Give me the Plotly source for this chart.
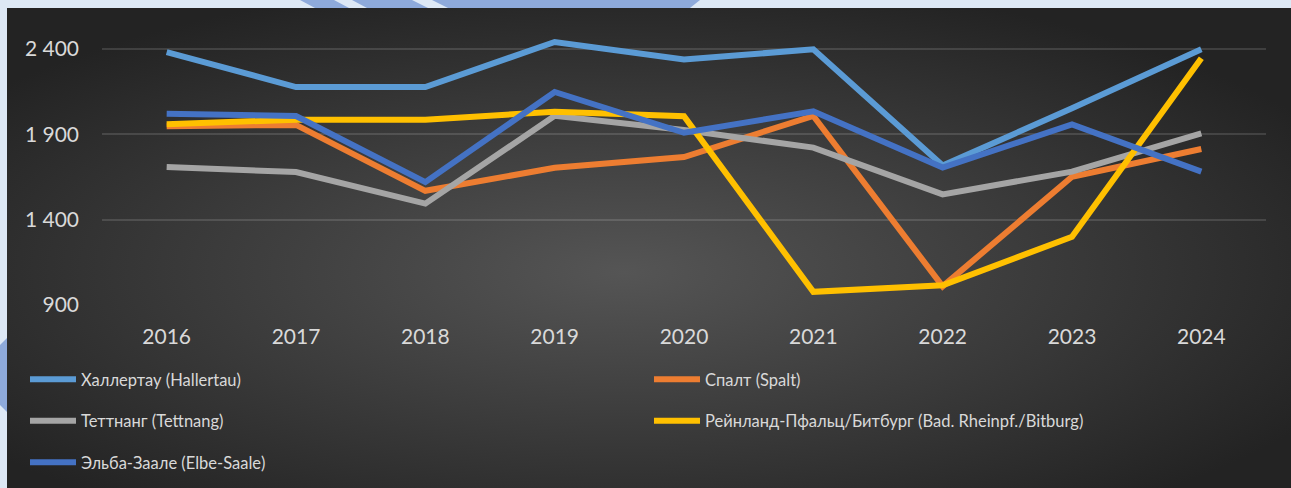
import base64
import plotly.graph_objects as go

W, H = 1291, 488

years = ["2016", "2017", "2018", "2019", "2020", "2021", "2022", "2023", "2024"]

hallertau = [2382, 2177, 2177, 2441, 2338, 2398, 1718, 2052, 2398]
spalt = [1947, 1955, 1569, 1704, 1767, 2008, 1009, 1651, 1814]
tettnang = [1708, 1679, 1494, 2008, 1925, 1822, 1548, 1681, 1906]
bitburg = [1959, 1986, 1986, 2032, 2006, 977, 1015, 1300, 2345]
elbe_saale = [2021, 2007, 1620, 2148, 1909, 2035, 1705, 1958, 1681]

y_ticks = [900, 1400, 1900, 2400]

series = [
    ("Халлертау (Hallertau)", hallertau, "#5b9bd5", "legend"),
    ("Спалт (Spalt)", spalt, "#ed7d31", "legend2"),
    ("Теттнанг (Tettnang)", tettnang, "#a5a5a5", "legend"),
    ("Рейнланд-Пфальц/Битбург (Bad. Rheinpf./Bitburg)", bitburg, "#ffc000", "legend2"),
    ("Эльба-Заале (Elbe-Saale)", elbe_saale, "#4472c4", "legend"),
]

FONT = "Lato, 'Open Sans', sans-serif"
TXT = "#d9d9d9"
DECO = "#8eaadb"

# dark radial background, like the Excel chart style
svg = (
    '<svg xmlns="http://www.w3.org/2000/svg" width="1284" height="480">'
    '<defs><radialGradient id="g" cx="48%" cy="55%" r="62%">'
    '<stop offset="0" stop-color="#555555"/>'
    '<stop offset="1" stop-color="#232323"/>'
    '</radialGradient></defs>'
    '<rect width="1284" height="480" fill="url(#g)"/></svg>'
)
bg = "data:image/svg+xml;base64," + base64.b64encode(svg.encode()).decode()


def px_path(points):
    """Polygon path in paper coords from pixel points (origin top-left)."""
    pts = [f"{x / W} {1 - y / H}" for x, y in points]
    return "M " + " L ".join(pts) + " Z"


fig = go.Figure()

for i, (name, vals, color, leg) in enumerate(series):
    fig.add_trace(go.Scatter(
        x=years,
        y=vals,
        mode="lines",
        name=name,
        legend=leg,
        legendgroup=f"g{i}",
        line=dict(color=color, width=6),
        hovertemplate=f"<b>{name}</b><br>%{{x}}: %{{y}}<extra></extra>",
    ))

legend_style = dict(
    orientation="v",
    traceorder="grouped",
    tracegroupgap=17,
    itemwidth=46,
    bgcolor="rgba(0,0,0,0)",
    font=dict(family=FONT, size=16.5, color=TXT),
    xanchor="left",
    yanchor="top",
    y=1 - 362 / H,
)

deco = [
    px_path([(300, 0), (334, 0), (349, 8), (315, 8)]),
    px_path([(352, 0), (412, 0), (428, 8), (367, 8)]),
    px_path([(432, 0), (700, 0), (690, 8), (448, 8)]),
    px_path([(0, 345), (7, 338), (7, 412), (0, 405)]),
]

fig.update_layout(
    width=W,
    height=H,
    margin=dict(l=0, r=0, t=0, b=0, autoexpand=False),
    paper_bgcolor="#dde8f5",
    plot_bgcolor="rgba(0,0,0,0)",
    separators=", ",
    showlegend=True,
    legend=dict(legend_style, x=25 / W),
    legend2=dict(legend_style, x=649 / W),
    font=dict(family=FONT, size=16, color=TXT),
    xaxis=dict(
        domain=[102 / W, 1266 / W],
        range=[-0.5, 8.5],
        type="category",
        showgrid=False,
        showline=False,
        zeroline=False,
        ticks="",
        ticklabelstandoff=17,
        automargin=False,
        tickfont=dict(family=FONT, size=21, color=TXT),
    ),
    yaxis=dict(
        domain=[1 - 305 / H, 1 - 8 / H],
        range=[900, 2640],
        tickvals=y_ticks,
        tickformat=",d",
        showgrid=True,
        gridcolor="rgba(255,255,255,0.13)",
        gridwidth=2,
        zeroline=False,
        showline=False,
        ticks="",
        ticklabelstandoff=22,
        automargin=False,
        tickfont=dict(family=FONT, size=21, color=TXT),
    ),
    images=[dict(
        source=bg,
        xref="paper", yref="paper",
        x=7 / W, y=1 - 8 / H,
        sizex=1 - 7 / W, sizey=1 - 8 / H,
        xanchor="left", yanchor="top",
        sizing="stretch",
        layer="below",
    )],
    shapes=[
        dict(type="path", xref="paper", yref="paper", path=p,
             fillcolor=DECO, line=dict(width=0), layer="below")
        for p in deco
    ],
)

# the page's default body margin would shift the chart by 8px
fig.write_html(
    "out.html",
    config={"displayModeBar": False},
    post_script="document.body.style.margin='0';",
)
